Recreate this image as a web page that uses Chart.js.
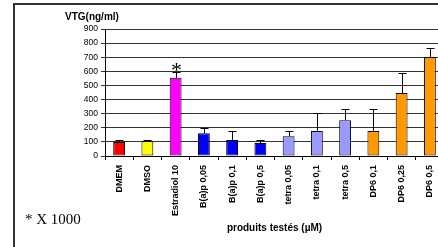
<!DOCTYPE html>
<html>
<head>
<meta charset="utf-8">
<script src="https://cdn.jsdelivr.net/npm/chart.js@4.4.0/dist/chart.umd.min.js"></script>
<style>
  body { margin: 0; width: 438px; height: 247px; overflow: hidden; background: #fff; position: relative; }
  #frame { position: absolute; left: 13px; top: 3px; width: 500px; height: 300px; border: 2px solid #333; box-sizing: border-box; }
  #chart { position: absolute; left: 0; top: 0; }
  #note { position: absolute; left: 25px; top: 211px; font: 15px "Liberation Serif", serif; color: #000; }
</style>
</head>
<body>
<div id="frame"></div>
<canvas id="chart" width="450" height="247"></canvas>
<div id="note">* X 1000</div>
<script>
const products = ['DMEM', 'DMSO', 'Estradiol 10', 'B(a)p 0,05', 'B(a)p 0,1', 'B(a)p 0,5',
  'tetra 0,05', 'tetra 0,1', 'tetra 0,5', 'DP6 0,1', 'DP6 0,25', 'DP6 0,5'];
const vtg = [100, 105, 554, 161, 114, 92, 140, 178, 254, 178, 446, 701];
const vtgSd = [10, 10, 38, 36, 64, 24, 38, 130, 80, 156, 144, 67];
const barColors = ['#ff0000', '#ffff00', '#ff00ff', '#0000ff', '#0000ff', '#0000ff',
  '#9999ff', '#9999ff', '#9999ff', '#ff9900', '#ff9900', '#ff9900'];
const starred = ['Estradiol 10'];
const yTitle = 'VTG(ng/ml)';
const xTitle = 'produits testés (µM)';

const sans = '"Liberation Sans", Arial, sans-serif';

// error bars (upper only) + asterisk + y title
const extras = {
  id: 'extras',
  afterDatasetsDraw(chart) {
    const ctx = chart.ctx;
    const y = chart.scales.y;
    const meta = chart.getDatasetMeta(0);
    ctx.save();
    ctx.strokeStyle = '#000';
    ctx.lineWidth = 1;
    meta.data.forEach((bar, i) => {
      const x = Math.round(bar.x) + 0.5;
      const top = Math.round(y.getPixelForValue(vtg[i] + vtgSd[i])) + 0.5;
      const base = y.getPixelForValue(vtg[i]);
      ctx.beginPath();
      ctx.moveTo(x, base);
      ctx.lineTo(x, top);
      ctx.moveTo(x - 4, top);
      ctx.lineTo(x + 4, top);
      ctx.stroke();
      if (starred.includes(products[i])) {
        ctx.fillStyle = '#000';
        ctx.font = '22px "Liberation Serif", serif';
        ctx.textAlign = 'center';
        ctx.textBaseline = 'alphabetic';
        ctx.fillText('*', x, top + 4);
      }
    });
    ctx.fillStyle = '#000';
    ctx.font = 'bold 10px ' + sans;
    ctx.textAlign = 'left';
    ctx.textBaseline = 'middle';
    ctx.fillText(yTitle, y.right - 40, 17);
    ctx.restore();
  }
};

new Chart(document.getElementById('chart'), {
  type: 'bar',
  data: {
    labels: products,
    datasets: [{
      data: vtg,
      backgroundColor: barColors,
      borderColor: '#000',
      borderWidth: 1,
      borderSkipped: false,
      barPercentage: 0.42,
      categoryPercentage: 1
    }]
  },
  options: {
    responsive: false,
    animation: false,
    layout: { padding: { top: 29, right: 6, left: 0, bottom: 0 } },
    plugins: { legend: { display: false }, tooltip: { enabled: false } },
    scales: {
      y: {
        min: 0,
        max: 900,
        afterFit: (s) => { s.width = 105; },
        ticks: { stepSize: 100, color: '#000', font: { size: 8.5, family: sans }, padding: 3 },
        grid: { color: '#333', lineWidth: 1, tickLength: 4 },
        border: { color: '#000' }
      },
      x: {
        afterFit: (s) => { s.height = 91; },
        ticks: { minRotation: 90, maxRotation: 90, color: '#000', font: { size: 9, weight: 'bold', family: sans }, padding: 5 },
        grid: { display: true, drawOnChartArea: false, offset: true, tickLength: 4, color: '#000' },
        border: { color: '#000' },
        title: { display: true, text: xTitle, color: '#000', font: { size: 10, weight: 'bold', family: sans }, padding: { top: 0, bottom: 13 } }
      }
    }
  },
  plugins: [extras]
});
</script>
</body>
</html>
